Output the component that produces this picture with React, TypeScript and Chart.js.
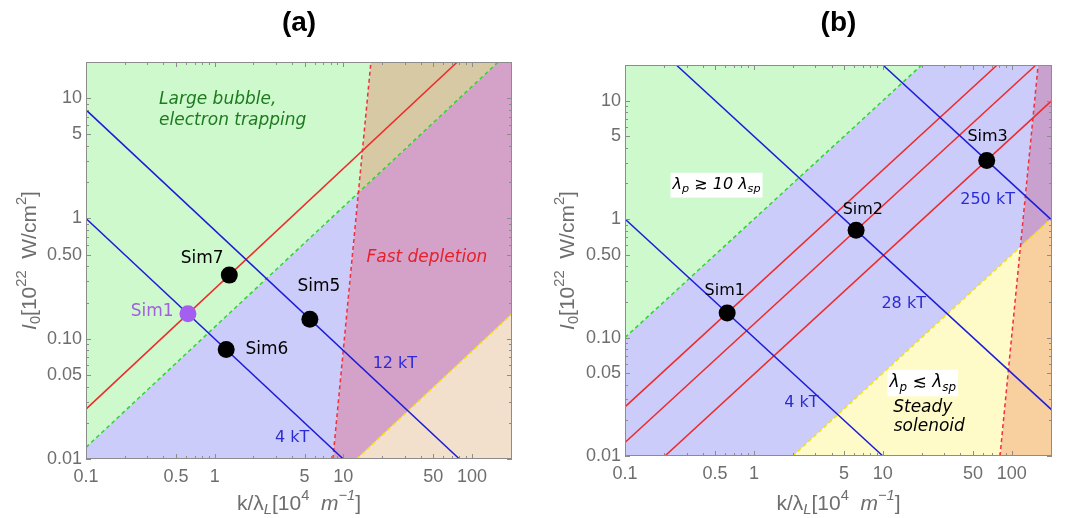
import React, { useEffect, useRef } from 'react';
import { Chart, registerables } from 'chart.js';

Chart.register(...registerables);

// ---------- axes ----------
const X_MIN = 0.1;
const X_MAX = 205;
const Y_MIN = 0.01;
const Y_MAX = 20;
const xTickValues = [0.1, 0.5, 1, 5, 10, 50, 100];
const xTickLabels = ['0.1', '0.5', '1', '5', '10', '50', '100'];
const yTickValues = [0.01, 0.05, 0.1, 0.5, 1, 5, 10];
const yTickLabels = ['0.01', '0.05', '0.10', '0.50', '1', '5', '10'];

// ---------- panel (a) ----------
const aGreenDashed = [{ x: 0.1, y: 0.0125 }, { x: 160, y: 20 }];
const aRedSolid = [{ x: 0.1, y: 0.026 }, { x: 77, y: 20 }];
const aRedDashed = [{ x: 8.3, y: 0.01 }, { x: 16.4, y: 20 }];
const aYellowDashed = [{ x: 12.7, y: 0.01 }, { x: 205, y: 0.161 }];
const aBlue4kT = [{ x: 0.1, y: 1 }, { x: 10, y: 0.01 }];
const aBlue12kT = [{ x: 0.1, y: 8 }, { x: 80, y: 0.01 }];

const aRegionGreen = [{ x: 0.1, y: 0.0125 }, { x: 13.12, y: 1.64 }, { x: 16.4, y: 20 }, { x: 0.1, y: 20 }];
const aRegionBlue = [{ x: 0.1, y: 0.01 }, { x: 8.3, y: 0.01 }, { x: 13.12, y: 1.64 }, { x: 0.1, y: 0.0125 }];
const aRegionTan = [{ x: 13.12, y: 1.64 }, { x: 160, y: 20 }, { x: 16.4, y: 20 }];
const aRegionMauve = [{ x: 8.3, y: 0.01 }, { x: 12.7, y: 0.01 }, { x: 205, y: 0.161 }, { x: 205, y: 20 }, { x: 160, y: 20 }, { x: 13.12, y: 1.64 }];
const aRegionPeach = [{ x: 12.7, y: 0.01 }, { x: 205, y: 0.01 }, { x: 205, y: 0.161 }];

const aSimBlack = [{ x: 1.3, y: 0.338 }, { x: 1.23, y: 0.0813 }, { x: 5.5, y: 0.145 }];
const aSimPurple = [{ x: 0.62, y: 0.161 }];

// ---------- panel (b) ----------
const bGreenDashed = [{ x: 0.1, y: 0.1 }, { x: 20, y: 20 }];
const bYellowDashed = [{ x: 2, y: 0.01 }, { x: 205, y: 1.025 }];
const bRedDashed = [{ x: 81, y: 0.01 }, { x: 160, y: 20 }];
const bRed1 = [{ x: 0.1, y: 0.026 }, { x: 77, y: 20 }];
const bRed2 = [{ x: 0.1, y: 0.013 }, { x: 154, y: 20 }];
const bRed3 = [{ x: 0.2, y: 0.0098 }, { x: 205, y: 10.05 }];
const bBlue4kT = [{ x: 0.1, y: 1 }, { x: 10, y: 0.01 }];
const bBlue28kT = [{ x: 0.25, y: 20 }, { x: 205, y: 0.0244 }];
const bBlue250kT = [{ x: 10, y: 20 }, { x: 205, y: 0.976 }];

const bRegionGreen = [{ x: 0.1, y: 0.1 }, { x: 20, y: 20 }, { x: 0.1, y: 20 }];
const bRegionBlue = [{ x: 0.1, y: 0.01 }, { x: 2, y: 0.01 }, { x: 116.6, y: 0.583 }, { x: 160, y: 20 }, { x: 20, y: 20 }, { x: 0.1, y: 0.1 }];
const bRegionYellow = [{ x: 2, y: 0.01 }, { x: 81, y: 0.01 }, { x: 116.6, y: 0.583 }];
const bRegionPurple = [{ x: 116.6, y: 0.583 }, { x: 205, y: 1.025 }, { x: 205, y: 20 }, { x: 160, y: 20 }];
const bRegionOrange = [{ x: 81, y: 0.01 }, { x: 205, y: 0.01 }, { x: 205, y: 1.025 }, { x: 116.6, y: 0.583 }];

const bSimBlack = [{ x: 0.62, y: 0.161 }, { x: 6.2, y: 0.806 }, { x: 63.9, y: 3.13 }];

// ---------- colours ----------
const C_GREEN_FILL = '#cdf9cd';
const C_BLUE_FILL = '#ccccfa';
const C_TAN_FILL = '#d6c9a3';
const C_MAUVE_FILL = '#d4a1c8';
const C_PEACH_FILL = '#f2e0cd';
const C_YELLOW_FILL = '#fefbc9';
const C_ORANGE_FILL = '#f8cf9f';
const C_PURPLE_FILL = '#c9a1cf';
const C_BLUE_LINE = '#1c1cd8';
const C_RED_LINE = '#ee2a2a';
const C_RED_DASH = '#f0303a';
const C_GREEN_DASH = '#2ed62e';
const C_YELLOW_DASH = '#f2e400';
const C_LABEL_BLUE = '#2b2bd4';
const C_AXIS = '#8c8c8c';
const C_TICKTEXT = '#6e6e6e';

type Run = { t: string; it?: boolean; b?: 'sub' | 'sup' };
type Label = { x: number; y: number; runs: Run[]; color: string; size: number; align?: 'left' | 'center'; bg?: boolean };

const aLabels: Label[] = [
  { x: 0.37, y: 9.76, runs: [{ t: 'Large bubble,', it: true }], color: '#1f7a1f', size: 17, align: 'left' },
  { x: 0.37, y: 6.5, runs: [{ t: 'electron trapping', it: true }], color: '#1f7a1f', size: 17, align: 'left' },
  { x: 44.7, y: 0.475, runs: [{ t: 'Fast depletion', it: true }], color: '#e8202a', size: 17 },
  { x: 0.8, y: 0.468, runs: [{ t: 'Sim7' }], color: '#000', size: 17 },
  { x: 6.47, y: 0.274, runs: [{ t: 'Sim5' }], color: '#000', size: 17 },
  { x: 0.327, y: 0.167, runs: [{ t: 'Sim1' }], color: '#a45ee0', size: 17 },
  { x: 2.55, y: 0.081, runs: [{ t: 'Sim6' }], color: '#000', size: 17 },
  { x: 4.0, y: 0.0151, runs: [{ t: '4 kT' }], color: C_LABEL_BLUE, size: 16 },
  { x: 25.2, y: 0.0618, runs: [{ t: '12 kT' }], color: C_LABEL_BLUE, size: 16 },
];

const bLabels: Label[] = [
  { x: 0.513, y: 1.95, runs: [{ t: 'λ', it: true }, { t: 'p', it: true, b: 'sub' }, { t: ' ≳ 10 ', it: true }, { t: 'λ', it: true }, { t: 'sp', it: true, b: 'sub' }], color: '#000', size: 16, bg: true },
  { x: 6.99, y: 1.2, runs: [{ t: 'Sim2' }], color: '#000', size: 16 },
  { x: 64.9, y: 4.93, runs: [{ t: 'Sim3' }], color: '#000', size: 16 },
  { x: 64.9, y: 1.46, runs: [{ t: '250 kT' }], color: C_LABEL_BLUE, size: 16 },
  { x: 0.594, y: 0.249, runs: [{ t: 'Sim1' }], color: '#000', size: 16 },
  { x: 14.5, y: 0.191, runs: [{ t: '28 kT' }], color: C_LABEL_BLUE, size: 16 },
  { x: 2.33, y: 0.0282, runs: [{ t: '4 kT' }], color: C_LABEL_BLUE, size: 16 },
  { x: 20.4, y: 0.0416, runs: [{ t: 'λ', it: true }, { t: 'p', it: true, b: 'sub' }, { t: ' ≲ ', it: true }, { t: 'λ', it: true }, { t: 'sp', it: true, b: 'sub' }], color: '#000', size: 17, bg: true },
  { x: 20.4, y: 0.0258, runs: [{ t: 'Steady', it: true }], color: '#000', size: 17 },
  { x: 22.9, y: 0.01766, runs: [{ t: 'solenoid', it: true }], color: '#000', size: 17 },
];

const FAMILY = '"DejaVu Sans", sans-serif';
const AXFAMILY = '"Liberation Sans", Arial, sans-serif';

function runFont(r: Run, size: number, family: string) {
  const s = r.b ? size * 0.7 : size;
  return `${r.it ? 'italic ' : ''}${s}px ${family}`;
}
function runsWidth(ctx: CanvasRenderingContext2D, runs: Run[], size: number, family: string) {
  let w = 0;
  for (const r of runs) {
    ctx.font = runFont(r, size, family);
    w += ctx.measureText(r.t).width;
  }
  return w;
}
function drawRuns(ctx: CanvasRenderingContext2D, runs: Run[], x: number, y: number, size: number, family: string, color: string, align: 'left' | 'center', bg?: boolean) {
  const w = runsWidth(ctx, runs, size, family);
  let cx = align === 'center' ? x - w / 2 : x;
  if (bg) {
    ctx.fillStyle = '#ffffff';
    ctx.fillRect(cx - 2, y - size * 0.75, w + 4, size * 1.55);
  }
  ctx.fillStyle = color;
  ctx.textBaseline = 'middle';
  ctx.textAlign = 'left';
  for (const r of runs) {
    ctx.font = runFont(r, size, family);
    const dy = r.b === 'sub' ? size * 0.3 : r.b === 'sup' ? -size * 0.4 : 0;
    ctx.fillText(r.t, cx, y + dy);
    cx += ctx.measureText(r.t).width;
  }
}

function minorValues(min: number, max: number) {
  const out: number[] = [];
  for (let e = -3; e <= 3; e++) {
    for (let k = 1; k <= 9; k++) {
      const v = k * Math.pow(10, e);
      if (v >= min * 0.999 && v <= max * 1.001) out.push(v);
    }
  }
  return out;
}

const xTitleRuns: Run[] = [{ t: 'k/λ' }, { t: 'L', it: true, b: 'sub' }, { t: '[10' }, { t: '4', b: 'sup' }, { t: '  ' }, { t: 'm', it: true }, { t: '−1', it: true, b: 'sup' }, { t: ']' }];
const yTitleRuns: Run[] = [{ t: 'I', it: true }, { t: '0', b: 'sub' }, { t: '[10' }, { t: '22', b: 'sup' }, { t: '  W/cm' }, { t: '2', b: 'sup' }, { t: ']' }];

const decorPlugin = {
  id: 'decor',
  afterDatasetsDraw(chart: any) {
    const ctx: CanvasRenderingContext2D = chart.ctx;
    const { left, right, top, bottom } = chart.chartArea;
    const xs = chart.scales.x;
    const ys = chart.scales.y;
    ctx.save();
    // frame
    ctx.strokeStyle = C_AXIS;
    ctx.lineWidth = 1;
    ctx.strokeRect(left + 0.5, top + 0.5, right - left - 1, bottom - top - 1);
    // inward ticks
    ctx.beginPath();
    for (const v of minorValues(X_MIN, X_MAX)) {
      const major = xTickValues.some((t) => Math.abs(t - v) / t < 1e-6);
      const len = major ? 5 : 3;
      const px = Math.round(xs.getPixelForValue(v)) + 0.5;
      ctx.moveTo(px, bottom);
      ctx.lineTo(px, bottom - len);
      ctx.moveTo(px, top);
      ctx.lineTo(px, top + len);
    }
    for (const v of minorValues(Y_MIN, Y_MAX)) {
      const major = yTickValues.some((t) => Math.abs(t - v) / t < 1e-6);
      const len = major ? 5 : 3;
      const py = Math.round(ys.getPixelForValue(v)) + 0.5;
      ctx.moveTo(left, py);
      ctx.lineTo(left + len, py);
      ctx.moveTo(right, py);
      ctx.lineTo(right - len, py);
    }
    ctx.stroke();
    // labels
    const labels: Label[] = chart.options.plugins.decor.labels;
    for (const l of labels) {
      const px = xs.getPixelForValue(l.x);
      const py = ys.getPixelForValue(l.y);
      drawRuns(ctx, l.runs, px, py, l.size, FAMILY, l.color, l.align || 'center', l.bg);
    }
    // axis titles
    const xt = chart.options.plugins.decor.xTitleY;
    drawRuns(ctx, xTitleRuns, (left + right) / 2, xt, 21, AXFAMILY, C_TICKTEXT, 'center');
    ctx.save();
    ctx.translate(chart.options.plugins.decor.yTitleX, (top + bottom) / 2);
    ctx.rotate(-Math.PI / 2);
    drawRuns(ctx, yTitleRuns, 0, 0, 21, AXFAMILY, C_TICKTEXT, 'center');
    ctx.restore();
    ctx.restore();
  },
};

function region(data: any[], color: string) {
  return { data, fill: 'shape', backgroundColor: color, borderColor: 'rgba(0,0,0,0)', borderWidth: 0, pointRadius: 0, order: 3 };
}
function line(data: any[], color: string, dashed = false) {
  return { data, fill: false, borderColor: color, borderWidth: 1.5, borderDash: dashed ? [4, 3] : [], pointRadius: 0, order: 2 };
}
function points(data: any[], color: string) {
  return { data, showLine: false, pointRadius: 8.5, pointBackgroundColor: color, pointBorderWidth: 0, borderColor: color, order: 1 };
}

function makeConfig(opts: { title: string; datasets: any[]; labels: Label[]; yWidth: number; xHeight: number; padRight: number; titleBottom: number; xTitleY: number; yTitleX: number }): any {
  return {
    type: 'line',
    data: { datasets: opts.datasets },
    plugins: [decorPlugin],
    options: {
      animation: false,
      responsive: true,
      maintainAspectRatio: false,
      events: [],
      layout: { padding: { left: 0, right: opts.padRight, top: 0, bottom: 0 } },
      plugins: {
        legend: { display: false },
        tooltip: { enabled: false },
        title: {
          display: true,
          text: opts.title,
          fullSize: false,
          color: '#000',
          font: { family: AXFAMILY, size: 28, weight: 'bold' },
          padding: { top: 6, bottom: opts.titleBottom },
        },
        decor: { labels: opts.labels, xTitleY: opts.xTitleY, yTitleX: opts.yTitleX },
      },
      scales: {
        x: {
          type: 'logarithmic',
          min: X_MIN,
          max: X_MAX,
          grid: { display: false, drawTicks: false },
          border: { display: false },
          afterBuildTicks: (s: any) => { s.ticks = xTickValues.map((v) => ({ value: v })); },
          afterFit: (s: any) => { s.height = opts.xHeight; },
          ticks: {
            autoSkip: false,
            maxRotation: 0,
            minRotation: 0,
            padding: 7,
            color: C_TICKTEXT,
            font: { family: AXFAMILY, size: 18 },
            callback: (v: number) => {
              const i = xTickValues.findIndex((t) => Math.abs(t - v) / t < 1e-6);
              return i >= 0 ? xTickLabels[i] : '';
            },
          },
        },
        y: {
          type: 'logarithmic',
          min: Y_MIN,
          max: Y_MAX,
          grid: { display: false, drawTicks: false },
          border: { display: false },
          afterBuildTicks: (s: any) => { s.ticks = yTickValues.map((v) => ({ value: v })); },
          afterFit: (s: any) => { s.width = opts.yWidth; },
          ticks: {
            autoSkip: false,
            padding: 4,
            color: C_TICKTEXT,
            font: { family: AXFAMILY, size: 18 },
            callback: (v: number) => {
              const i = yTickValues.findIndex((t) => Math.abs(t - v) / t < 1e-6);
              return i >= 0 ? yTickLabels[i] : '';
            },
          },
        },
      },
    },
  };
}

export default function App() {
  const refA = useRef<HTMLCanvasElement>(null);
  const refB = useRef<HTMLCanvasElement>(null);

  useEffect(() => {
    const dsA = [
      points(aSimBlack, '#000000'),
      points(aSimPurple, '#a45ff0'),
      line(aBlue4kT, C_BLUE_LINE),
      line(aBlue12kT, C_BLUE_LINE),
      line(aRedSolid, C_RED_LINE),
      line(aRedDashed, C_RED_DASH, true),
      line(aGreenDashed, C_GREEN_DASH, true),
      line(aYellowDashed, C_YELLOW_DASH, true),
      region(aRegionGreen, C_GREEN_FILL),
      region(aRegionBlue, C_BLUE_FILL),
      region(aRegionTan, C_TAN_FILL),
      region(aRegionMauve, C_MAUVE_FILL),
      region(aRegionPeach, C_PEACH_FILL),
    ];
    const dsB = [
      points(bSimBlack, '#000000'),
      line(bBlue4kT, C_BLUE_LINE),
      line(bBlue28kT, C_BLUE_LINE),
      line(bBlue250kT, C_BLUE_LINE),
      line(bRed1, C_RED_LINE),
      line(bRed2, C_RED_LINE),
      line(bRed3, C_RED_LINE),
      line(bRedDashed, C_RED_DASH, true),
      line(bGreenDashed, C_GREEN_DASH, true),
      line(bYellowDashed, C_YELLOW_DASH, true),
      region(bRegionGreen, C_GREEN_FILL),
      region(bRegionBlue, C_BLUE_FILL),
      region(bRegionYellow, C_YELLOW_FILL),
      region(bRegionPurple, C_PURPLE_FILL),
      region(bRegionOrange, C_ORANGE_FILL),
    ];
    const ca = new Chart(refA.current as HTMLCanvasElement, makeConfig({
      title: '(a)', datasets: dsA, labels: aLabels, yWidth: 86, xHeight: 59, padRight: 24, titleBottom: 22.4, xTitleY: 504, yTitleX: 30,
    }));
    const cb = new Chart(refB.current as HTMLCanvasElement, makeConfig({
      title: '(b)', datasets: dsB, labels: bLabels, yWidth: 89, xHeight: 62, padRight: 20, titleBottom: 25.4, xTitleY: 504, yTitleX: 32,
    }));
    return () => { ca.destroy(); cb.destroy(); };
  }, []);

  return (
    <div style={{ position: 'absolute', left: 0, top: 0, width: 1072, height: 518, background: '#fff' }}>
      <div style={{ position: 'absolute', left: 0, top: 0, width: 536, height: 518 }}>
        <canvas ref={refA} />
      </div>
      <div style={{ position: 'absolute', left: 536, top: 0, width: 536, height: 518 }}>
        <canvas ref={refB} />
      </div>
    </div>
  );
}
